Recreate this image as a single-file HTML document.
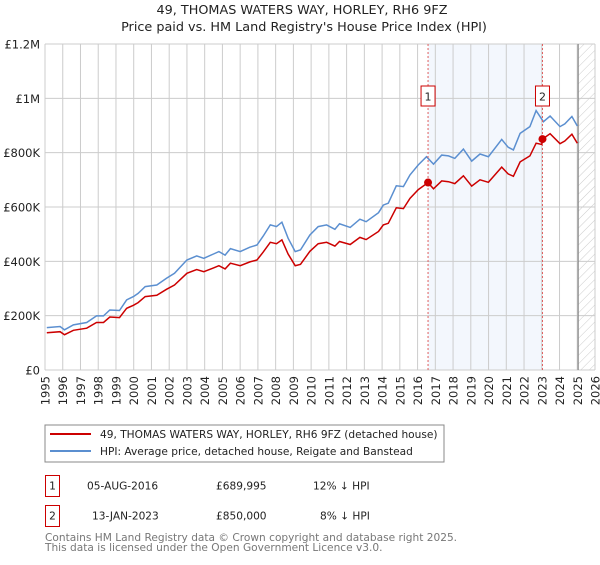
<!DOCTYPE html>
<html><head><meta charset="utf-8"><style>
body{margin:0;background:#fff;width:600px;height:560px;overflow:hidden}
svg text{font-family:"DejaVu Sans","Liberation Sans",sans-serif}
</style></head><body>
<svg id="c" width="600" height="560" xmlns="http://www.w3.org/2000/svg">
<defs><pattern id="hatch" width="6" height="6" patternUnits="userSpaceOnUse" patternTransform="rotate(45)"><line x1="0" y1="0" x2="0" y2="6" stroke="#ccc" stroke-width="1"/></pattern></defs>
<text x="302" y="14" font-size="12.8" text-anchor="middle" fill="#222">49, THOMAS WATERS WAY, HORLEY, RH6 9FZ</text>
<text x="304" y="31" font-size="12.8" text-anchor="middle" fill="#222">Price paid vs. HM Land Registry's House Price Index (HPI)</text>
<g id="plot"></g>
<g>
<rect x="45" y="425" width="399" height="37" fill="#fff" stroke="#888"/>
<line x1="50" y1="434" x2="91" y2="434" stroke="#cc0000" stroke-width="2"/>
<text x="100" y="438" font-size="10.6" fill="#222">49, THOMAS WATERS WAY, HORLEY, RH6 9FZ (detached house)</text>
<line x1="50" y1="451" x2="91" y2="451" stroke="#5b8fd0" stroke-width="2"/>
<text x="100" y="455" font-size="10.6" fill="#222">HPI: Average price, detached house, Reigate and Banstead</text>
</g>
<g font-size="10.6" fill="#222">
<rect x="45.5" y="475.5" width="14" height="21" fill="#fff" stroke="#cc0000"/>
<text x="52.5" y="489.5" text-anchor="middle">1</text>
<text x="87" y="489.5">05-AUG-2016</text>
<text x="216" y="489.5">£689,995</text>
<text x="313" y="489.5">12% ↓ HPI</text>
<rect x="45.5" y="505.5" width="14" height="21" fill="#fff" stroke="#cc0000"/>
<text x="52.5" y="519.5" text-anchor="middle">2</text>
<text x="92" y="519.5">13-JAN-2023</text>
<text x="216" y="519.5">£850,000</text>
<text x="320" y="519.5">8% ↓ HPI</text>
</g>
<text x="45" y="541" font-size="10.6" fill="#777">Contains HM Land Registry data © Crown copyright and database right 2025.</text>
<text x="45" y="551" font-size="10.6" fill="#777">This data is licensed under the Open Government Licence v3.0.</text>
</svg>
<script>
const hpiYears=[1995.1,1995.85,1996.1,1996.6,1997.35,1997.9,1998.3,1998.65,1999.2,1999.6,1999.98,2000.25,2000.65,2001.3,2001.85,2002.3,2003,2003.55,2003.95,2004.5,2004.8,2005.15,2005.45,2006,2006.55,2006.95,2007.3,2007.7,2008.05,2008.35,2008.7,2009.1,2009.4,2009.93,2010.4,2010.87,2011.34,2011.6,2012.2,2012.75,2013.1,2013.8,2014.07,2014.35,2014.8,2015.2,2015.57,2016.04,2016.5,2016.9,2017.36,2017.74,2018.1,2018.58,2019.05,2019.52,2019.99,2020.74,2021.1,2021.4,2021.78,2022.33,2022.68,2023.09,2023.47,2024.03,2024.3,2024.7,2025.0];
const hpiValues=[156,160,148,166,175,199,199,221,219,258,270,282,307,313,338,356,405,420,411,427,436,423,447,436,452,460,493,534,528,544,485,436,442,497,528,534,518,538,525,555,546,579,607,614,678,675,718,755,785,758,791,788,779,813,769,795,785,849,820,810,871,896,955,914,935,896,906,933,898];
const propYears=[1995.1,1995.85,1996.1,1996.6,1997.35,1997.9,1998.3,1998.65,1999.2,1999.6,1999.98,2000.25,2000.65,2001.3,2001.85,2002.3,2003,2003.55,2003.95,2004.5,2004.8,2005.15,2005.45,2006,2006.55,2006.95,2007.3,2007.7,2008.05,2008.35,2008.7,2009.1,2009.4,2009.93,2010.4,2010.87,2011.34,2011.6,2012.2,2012.75,2013.1,2013.8,2014.07,2014.35,2014.8,2015.2,2015.57,2016.04,2016.59,2016.9,2017.36,2017.74,2018.1,2018.58,2019.05,2019.52,2019.99,2020.74,2021.1,2021.4,2021.78,2022.33,2022.68,2023.0,2023.04,2023.47,2024.03,2024.3,2024.7,2025.0];
const propValues=[137,141,130,146,154,175,175,195,193,227,238,248,270,275,297,313,356,370,362,376,384,372,393,384,398,405,434,470,465,479,427,384,389,437,465,470,456,473,462,488,480,510,534,540,597,594,632,664,690,667,696,693,686,715,677,700,691,747,722,713,766,788,835,830,850,870,833,843,868,835];
const saleYears=[2016.59,2023.04];
const saleValues=[690,850];
const saleLabels=["1","2"];
const yTicks=[0,200,400,600,800,1000,1200];
const yTickLabels=["£0","£200K","£400K","£600K","£800K","£1M","£1.2M"];
const xTicks=[1995,1996,1997,1998,1999,2000,2001,2002,2003,2004,2005,2006,2007,2008,2009,2010,2011,2012,2013,2014,2015,2016,2017,2018,2019,2020,2021,2022,2023,2024,2025,2026];

const X0=45,X1=595,Y0=370,Y1=44;
const xs=y=>X0+(y-1995)/(2026-1995)*(X1-X0);
const ys=v=>Y0-v/1200*(Y0-Y1);
const NS="http://www.w3.org/2000/svg";
const g=document.getElementById('plot');
function mk(t,a){const e=document.createElementNS(NS,t);for(const k in a)e.setAttribute(k,a[k]);g.appendChild(e);return e;}

const shade=mk('rect',{x:xs(saleYears[0]),y:Y1,width:xs(saleYears[1])-xs(saleYears[0]),height:Y0-Y1,fill:'#eef3fc',opacity:0.7});


const hatch=mk('rect',{x:xs(2025.05),y:Y1,width:X1-xs(2025.05),height:Y0-Y1,fill:'url(#hatch)'});



xTicks.forEach(t=>{
  const l=mk('line',{x1:xs(t),y1:Y1,x2:xs(t),y2:Y0,stroke:'#ccc','stroke-width':1});
  
  
  const tx=mk('text',{x:0,y:0,'font-size':11.5,fill:'#222','text-anchor':'end',transform:`translate(${xs(t)+4.5},376) rotate(-90)`});
  tx.textContent=t;
  
  
});
yTicks.forEach((t,i)=>{
  const l=mk('line',{x1:X0,y1:ys(t),x2:X1,y2:ys(t),stroke:'#ccc','stroke-width':1});
  
  
  const tx=mk('text',{x:40,y:ys(t)+4.5,'font-size':11.5,fill:'#222','text-anchor':'end'});
  tx.textContent=yTickLabels[i];
  
  
});
const nowL=mk('line',{x1:xs(2025.05),y1:Y1,x2:xs(2025.05),y2:Y0,stroke:'#888','stroke-width':1.2});



const hp=mk('path',{d:hpiYears.map((y,i)=>(i?'L':'M')+xs(y).toFixed(1)+','+ys(hpiValues[i]).toFixed(1)).join(''),fill:'none',stroke:'#5b8fd0','stroke-width':1.5});


const pp=mk('path',{d:propYears.map((y,i)=>(i?'L':'M')+xs(y).toFixed(1)+','+ys(propValues[i]).toFixed(1)).join(''),fill:'none',stroke:'#cc0000','stroke-width':1.5});



saleYears.forEach((y,i)=>{
  const v=mk('line',{x1:xs(y),y1:Y1,x2:xs(y),y2:Y0,stroke:'#e06060','stroke-width':1,'stroke-dasharray':'2,2'});
  
  
  const b=mk('rect',{x:xs(y)-7,y:86,width:14,height:20,fill:'#fff',stroke:'#cc0000'});
  
  
  const t=mk('text',{x:xs(y),y:100.5,'font-size':11,fill:'#222','text-anchor':'middle'});
  t.textContent=saleLabels[i];
  
  
  const c=mk('circle',{cx:xs(y),cy:ys(saleValues[i]),r:4,fill:'#cc0000'});
  
  
});
</script>
</body></html>
